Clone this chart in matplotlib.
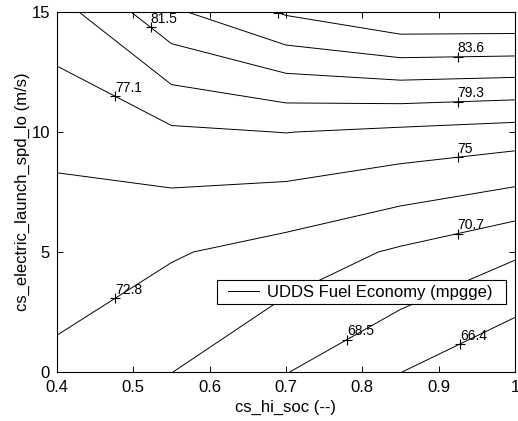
import numpy as np
import matplotlib
matplotlib.use("Agg")
import matplotlib.pyplot as plt
from matplotlib.legend_handler import HandlerLine2D

plt.rcParams["font.family"] = ["Liberation Sans", "DejaVu Sans"]

# design grid: cs_hi_soc along x, cs_electric_launch_spd_lo along y
cs_hi_soc = [0.4, 0.55, 0.7, 0.85, 1.0]
cs_launch_spd_lo = [0, 5, 10, 15]

# UDDS fuel economy (mpgge), one row per launch speed
mpgge_spd0 = [72.3, 70.73, 68.57, 66.43, 64.4]
mpgge_spd5 = [73.93, 73.0, 71.95, 70.4, 68.8]
mpgge_spd10 = [75.55, 76.75, 77.14, 76.65, 76.15]
mpgge_spd15 = [78.37, 83.2, 86.05, 87.87, 87.9]

levels = [66.4, 68.5, 70.7, 72.8, 75.0, 77.1, 79.3, 81.5, 83.6, 85.8]
# x position where each level gets its label (None text -> marker only)
label_x = [0.928, 0.78, 0.925, 0.476, 0.925, 0.476, 0.925, 0.523, 0.925, 0.69]
label_txt = ["66.4", "68.5", "70.7", "72.8", "75", "77.1", "79.3", "81.5", "83.6", None]

Z = np.array([mpgge_spd0, mpgge_spd5, mpgge_spd10, mpgge_spd15])
X, Y = np.meshgrid(cs_hi_soc, cs_launch_spd_lo)

fig = plt.figure(figsize=(5.18, 4.21), dpi=100)
ax = fig.add_axes([0.110, 0.1164, 0.884, 0.855])

cs = ax.contour(X, Y, Z, levels=levels, colors="black", linewidths=0.7)


def y_on_level(segs, xq):
    # walk the contour segments and interpolate y where x == xq
    for seg in segs:
        for (x0, y0), (x1, y1) in zip(seg[:-1], seg[1:]):
            if (x0 - xq) * (x1 - xq) <= 0 and x0 != x1:
                t = (xq - x0) / (x1 - x0)
                return y0 + t * (y1 - y0)
    return None


for segs, xq, txt in zip(cs.allsegs, label_x, label_txt):
    yq = y_on_level(segs, xq)
    if yq is None:
        continue
    ax.plot(xq, yq, marker="+", color="black", markersize=7, markeredgewidth=0.8)
    if txt:
        ax.annotate(txt, (xq, yq), xytext=(0, 1), textcoords="offset points",
                    ha="left", va="bottom", fontsize=10)

ln, = ax.plot([], [], color="black", linewidth=0.7, label="UDDS Fuel Economy (mpgge)  ")
leg = ax.legend(loc="center right", bbox_to_anchor=(0.98, 0.222), fontsize=12,
                fancybox=False, framealpha=1, edgecolor="black",
                borderpad=0.25, handlelength=2.3, handletextpad=0.45,
                borderaxespad=0, handler_map={ln: HandlerLine2D(xpad=0.4)})
leg.get_frame().set_linewidth(0.8)

ax.set_xlim(0.4, 1.0)
ax.set_ylim(0, 15)
ax.set_xticks([0.4, 0.5, 0.6, 0.7, 0.8, 0.9, 1.0])
ax.set_xticklabels(["0.4", "0.5", "0.6", "0.7", "0.8", "0.9", "1"])
ax.set_yticks([0, 5, 10, 15])
ax.tick_params(direction="in", top=True, right=True, length=4, width=0.7,
               labelsize=12)
ax.tick_params(axis="x", pad=5.5)
ax.tick_params(axis="y", pad=5)
for sp in ax.spines.values():
    sp.set_linewidth(0.8)

ax.set_xlabel("cs_hi_soc (--)", fontsize=12, labelpad=4)
ax.set_ylabel("cs_electric_launch_spd_lo (m/s)", fontsize=12, labelpad=1)

fig.savefig("out.png", dpi=100)
